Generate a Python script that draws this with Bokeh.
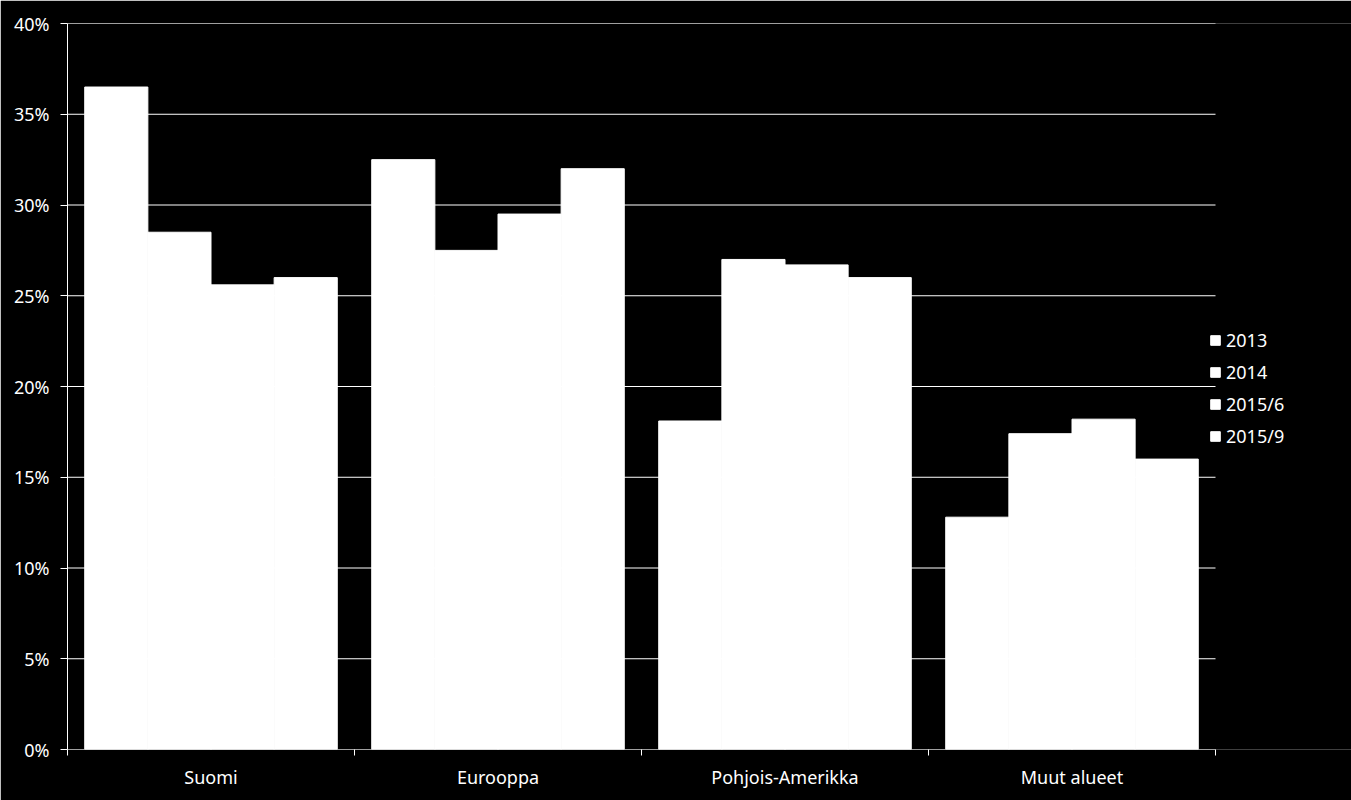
from bokeh.plotting import figure
from bokeh.models import (ColumnDataSource, FixedTicker, NumeralTickFormatter,
                          Range1d, Legend, LegendItem)
from bokeh.embed import file_html
from bokeh.resources import INLINE
import numpy as np

categories = ["Suomi", "Eurooppa", "Pohjois-Amerikka", "Muut alueet"]
series = ["2013", "2014", "2015/6", "2015/9"]
v2013 = [0.365, 0.325, 0.181, 0.128]
v2014 = [0.285, 0.275, 0.270, 0.174]
v2015_6 = [0.256, 0.295, 0.267, 0.182]
v2015_9 = [0.260, 0.320, 0.260, 0.160]
values = [v2013, v2014, v2015_6, v2015_9]
y_ticks = [0.00, 0.05, 0.10, 0.15, 0.20, 0.25, 0.30, 0.35, 0.40]

FONT = "Noto Sans"
FS = "18px"

W, H = 1351, 800
LEFT, TOP, BOTTOM = 67, 23, 51
PLOT_RIGHT = 1215          # where the category area ends (pixels)
n = len(categories)
x_end = n * (W - LEFT) / (PLOT_RIGHT - LEFT)   # extra room on the right for legend

p = figure(width=W, height=H, output_backend="svg", toolbar_location=None,
           x_range=Range1d(0, x_end), y_range=Range1d(0, y_ticks[-1]),
           min_border_left=LEFT, min_border_right=0, min_border_top=TOP,
           min_border_bottom=BOTTOM)
p.background_fill_color = "black"
p.border_fill_color = "black"
p.outline_line_color = None

# horizontal grid lines spanning only the category area
gsrc = ColumnDataSource(dict(x0=[0] * len(y_ticks), x1=[n] * len(y_ticks),
                             y=y_ticks))
p.segment(x0="x0", y0="y", x1="x1", y1="y", source=gsrc,
          line_color="white", line_width=1)

centers = np.arange(n) + 0.5
bw = 0.22
offsets = [-1.5 * bw, -0.5 * bw, 0.5 * bw, 1.5 * bw]
items = []
for s, vals, off in zip(series, values, offsets):
    src = ColumnDataSource(dict(x=centers + off, top=vals))
    r = p.vbar(x="x", top="top", width=bw, bottom=0, source=src,
               fill_color="white", line_color="white", line_width=1)
    items.append(LegendItem(label=s, renderers=[r]))

# x axis
p.xaxis.ticker = FixedTicker(ticks=list(centers), minor_ticks=list(range(n + 1)))
p.xaxis.major_label_overrides = {float(c): name for c, name in zip(centers, categories)}
p.xaxis.major_tick_line_color = None
p.xaxis.major_tick_out = 0
p.xaxis.major_tick_in = 0
p.xaxis.minor_tick_line_color = "white"
p.xaxis.minor_tick_out = 6
p.xaxis.minor_tick_in = 0
p.xaxis.axis_line_color = None
p.xaxis.major_label_standoff = 9
p.xaxis.major_label_text_color = "white"
p.xaxis.major_label_text_font = FONT
p.xaxis.major_label_text_font_size = FS

# y axis
p.yaxis.ticker = FixedTicker(ticks=y_ticks, minor_ticks=[])
p.yaxis.formatter = NumeralTickFormatter(format="0%")
p.yaxis.axis_line_color = "white"
p.yaxis.major_tick_line_color = "white"
p.yaxis.major_tick_out = 7
p.yaxis.major_tick_in = 0
p.yaxis.minor_tick_line_color = None
p.yaxis.major_label_standoff = 11
p.yaxis.major_label_text_color = "white"
p.yaxis.major_label_text_font = FONT
p.yaxis.major_label_text_font_size = FS

p.xgrid.grid_line_color = None
p.ygrid.grid_line_color = None

legend = Legend(items=items, location=(1142, 301), orientation="vertical",
                background_fill_alpha=0, border_line_color=None,
                padding=0, margin=0, spacing=8,
                glyph_width=12, glyph_height=12, label_height=20,
                label_standoff=5,
                label_text_color="white", label_text_font=FONT,
                label_text_font_size=FS)
p.add_layout(legend)

open("out.html", "w").write(file_html(p, INLINE))
